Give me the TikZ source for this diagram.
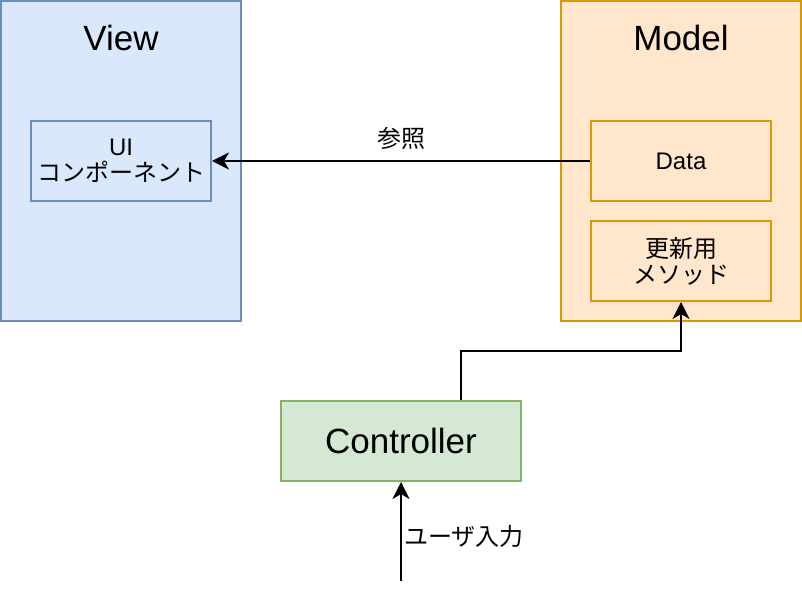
\documentclass[tikz,border=0pt]{standalone}
\usepackage{fontspec}
\setmainfont{Liberation Sans}
\newfontfamily\jp{Noto Sans CJK JP}
\usepackage{tikz}
\usetikzlibrary{arrows.meta,positioning}

\definecolor{viewfill}{HTML}{DAE8FC}
\definecolor{viewline}{HTML}{6C8EBF}
\definecolor{modelfill}{HTML}{FFE6CC}
\definecolor{modelline}{HTML}{D79B00}
\definecolor{ctrlfill}{HTML}{D5E8D4}
\definecolor{ctrlline}{HTML}{82B366}

\begin{document}
\begin{tikzpicture}[
                x=0.5pt, y=-0.5pt,
                font=\fontsize{12}{14}\selectfont,
                layer/.style={rectangle, line width=1pt, minimum width=120pt, minimum height=160pt, inner sep=0pt},
                comp/.style={rectangle, line width=1pt, minimum width=90pt, minimum height=40pt, align=center, inner sep=2pt},
                title/.style={font=\fontsize{17.5}{20}\selectfont},
                flow/.style={-{Stealth[length=8.5pt,width=8.5pt,inset=2.5pt]}, line width=1pt},
            ]
            \useasboundingbox (0,0) rectangle (802,598);

            \node[layer, fill=viewfill, draw=viewline] (view) at (121,161) {};
            \node[layer, fill=modelfill, draw=modelline] (model) at (681,161) {};
            \node[title] (viewtitle) at (121,38) {View};
            \node[title] (modeltitle) at (681,38) {Model};

            \node[comp, fill=viewfill, draw=viewline] (ui) at (121,161)
            {UI\\[-1pt]{\jp コンポーネント}};
            \node[comp, fill=modelfill, draw=modelline] (data) at (681,161) {Data};
            \node[comp, fill=modelfill, draw=modelline] (update) at (681,261)
            {{\jp 更新用}\\[-1pt]{\jp メソッド}};

            \node[comp, title, fill=ctrlfill, draw=ctrlline, minimum width=120pt] (controller) at (401,441) {Controller};
            \coordinate (input) at (401,581);

            \draw[flow] (data.west) -- node[above, pos=0.5, yshift=2pt]{\jp 参照} (ui.east);
            \draw[flow] ([xshift=30pt]controller.north) |- (681,351) -- (update.south);
            \draw[flow] (input) -- node[right, pos=0.45, inner sep=1pt]{\jp ユーザ入力} (controller.south);
        \end{tikzpicture}
\end{document}
